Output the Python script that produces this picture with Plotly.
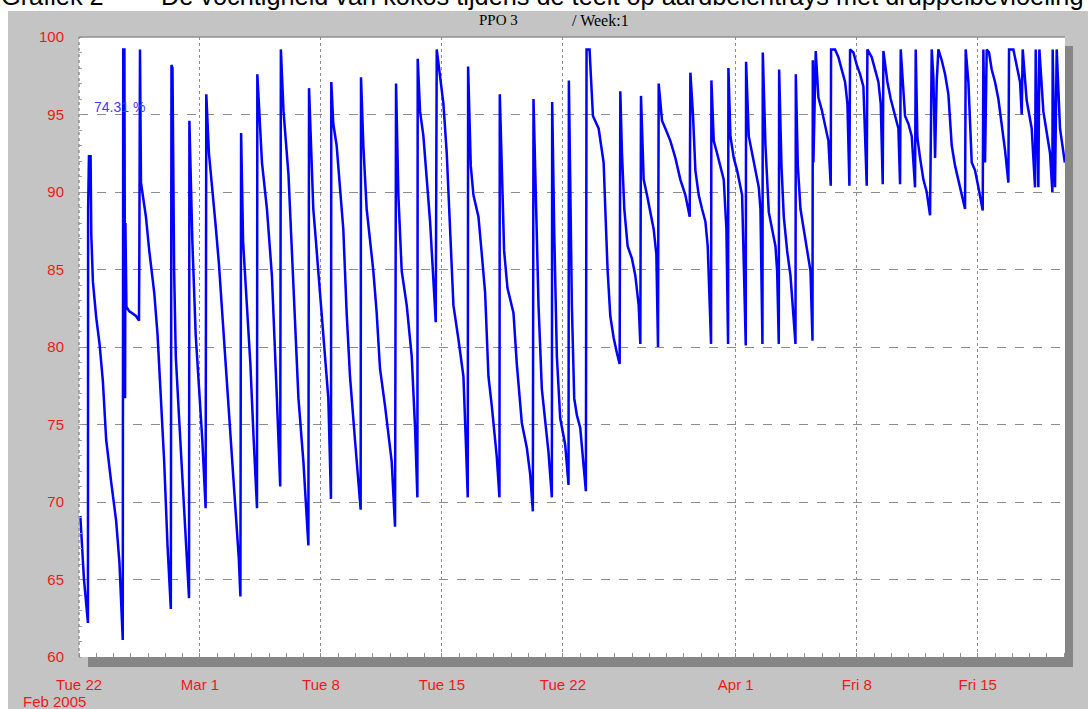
import pandas as pd
import plotly.graph_objects as go

# ---- data (days after 2005-02-22 00:00, moisture %) ----
base_date = "2005-02-22"
day_offset = [
    0.077, 0.288, 0.518, 0.527, 0.575, 0.671, 0.710, 0.806, 0.997, 1.189, 1.381, 1.573, 1.860, 2.148, 2.340, 2.493, 2.532,
    2.560, 2.628, 2.666, 2.685, 2.743, 2.915, 3.299, 3.471, 3.491, 3.529, 3.586, 3.874, 4.066, 4.354, 4.545, 4.737, 4.929,
    5.121, 5.313, 5.351, 5.409, 5.504, 5.600, 5.792, 5.984, 6.176, 6.367, 6.387, 6.559, 6.751, 6.943, 7.135, 7.326, 7.365,
    7.518, 7.710, 7.902, 8.094, 8.381, 8.669, 8.957, 9.244, 9.340, 9.379, 9.494, 9.724, 9.916, 10.107, 10.299, 10.318,
    10.453, 10.587, 10.875, 11.162, 11.450, 11.642, 11.680, 11.834, 12.121, 12.409, 12.697, 12.984, 13.272, 13.310,
    13.556, 13.653, 13.846, 14.039, 14.232, 14.425, 14.579, 14.598, 14.714, 14.907, 15.100, 15.293, 15.486, 15.680,
    15.969, 16.162, 16.297, 16.317, 16.452, 16.645, 16.838, 17.031, 17.224, 17.417, 17.707, 17.900, 18.093, 18.286,
    18.344, 18.479, 18.672, 18.961, 19.251, 19.444, 19.579, 19.598, 19.734, 19.927, 20.120, 20.313, 20.506, 20.641,
    20.699, 20.892, 21.085, 21.278, 21.471, 21.664, 21.954, 22.243, 22.378, 22.494, 22.514, 22.668, 22.822, 23.112,
    23.305, 23.498, 23.691, 23.884, 24.174, 24.328, 24.347, 24.463, 24.598, 24.791, 25.139, 25.332, 25.525, 25.622,
    25.911, 26.104, 26.259, 26.297, 26.452, 26.587, 26.780, 26.973, 27.166, 27.359, 27.378, 27.494, 27.649, 27.842,
    28.131, 28.324, 28.344, 28.421, 28.517, 28.653, 28.807, 29.000, 29.193, 29.328, 29.367, 29.541, 29.622, 29.737,
    30.066, 30.355, 30.452, 30.587, 30.741, 30.934, 31.127, 31.282, 31.320, 31.417, 31.552, 31.745, 31.996, 32.189,
    32.382, 32.479, 32.517, 32.672, 32.865, 33.058, 33.251, 33.405, 33.502, 33.541, 33.734, 33.927, 34.216, 34.506,
    34.795, 35.085, 35.336, 35.375, 35.529, 35.664, 35.857, 36.050, 36.243, 36.378, 36.494, 36.571, 36.591, 36.726,
    36.919, 37.112, 37.305, 37.459, 37.556, 37.575, 37.691, 37.884, 38.077, 38.367, 38.463, 38.579, 38.598, 38.753,
    38.946, 39.139, 39.332, 39.429, 39.544, 39.564, 39.718, 39.911, 40.104, 40.297, 40.394, 40.490, 40.510, 40.645,
    40.780, 40.973, 41.166, 41.456, 41.475, 41.591, 41.745, 41.938, 42.131, 42.324, 42.440, 42.459, 42.493, 42.628,
    42.686, 42.783, 42.975, 43.168, 43.361, 43.496, 43.515, 43.747, 43.939, 44.132, 44.325, 44.460, 44.576, 44.614,
    44.807, 45.000, 45.193, 45.386, 45.482, 45.578, 45.617, 45.868, 46.061, 46.253, 46.388, 46.504, 46.543, 46.774,
    46.967, 47.218, 47.410, 47.507, 47.545, 47.796, 47.989, 48.182, 48.374, 48.413, 48.509, 48.664, 48.857, 49.049,
    49.242, 49.339, 49.435, 49.532, 49.628, 49.724, 49.917, 50.110, 50.303, 50.496, 50.688, 50.978, 51.267, 51.305,
    51.460, 51.653, 51.845, 52.038, 52.289, 52.327, 52.424, 52.520, 52.655, 52.809, 53.002, 53.195, 53.388, 53.581,
    53.774, 53.812, 54.063, 54.256, 54.449, 54.545, 54.603, 54.834, 55.124, 55.316, 55.355, 55.509, 55.567, 55.798,
    55.991, 56.184, 56.319, 56.338, 56.473, 56.570, 56.762, 57.040,
]
moisture = [
    69.1, 65.0, 62.2, 88.8, 92.3, 92.3, 87.3, 84.2, 81.9, 80.2, 77.8, 74.0, 71.3, 68.8, 66.1, 62.0, 61.1,
    99.2, 99.2, 76.7, 88.0, 82.6, 82.3, 82.0, 81.7, 86.0, 99.2, 90.6, 88.4, 86.2, 83.5, 80.8, 76.7, 72.6,
    67.2, 63.1, 98.2, 98.0, 84.9, 79.4, 75.4, 71.3, 67.2, 63.8, 94.6, 86.8, 80.8, 77.3, 74.0, 69.6, 96.3,
    92.5, 90.3, 87.9, 85.4, 80.8, 76.2, 71.3, 66.4, 63.9, 93.8, 86.8, 82.1, 78.9, 74.0, 69.6, 97.6,
    94.9, 91.9, 88.9, 84.6, 76.7, 71.0, 99.2, 95.2, 91.1, 84.3, 76.7, 72.6, 67.2, 96.7,
    88.9, 87.6, 84.9, 82.7, 79.4, 76.7, 70.2, 97.1, 94.4, 93.0, 90.3, 87.6, 82.2, 78.1,
    74.0, 71.3, 69.5, 97.4, 93.0, 88.9, 87.0, 84.9, 82.2, 78.6, 76.2, 74.5, 72.6, 68.4,
    97.0, 89.8, 84.9, 82.7, 79.4, 74.8, 70.3, 98.6, 95.2, 93.6, 91.1, 88.1, 84.3, 81.6,
    99.2, 97.6, 95.7, 92.5, 87.6, 82.7, 80.5, 78.1, 74.0, 70.3, 98.1, 91.7, 89.8, 88.4,
    86.0, 83.5, 78.1, 76.2, 72.9, 70.3, 96.3, 90.8, 86.2, 83.8, 82.2, 78.9, 76.7, 75.1,
    73.5, 71.8, 69.4, 96.0, 88.9, 82.7, 77.3, 75.4, 73.2, 70.3, 95.8, 87.6, 79.4, 75.4,
    73.7, 71.1, 97.2, 90.8, 82.7, 76.7, 75.6, 74.8, 72.6, 70.7, 99.2, 99.2, 97.4, 94.9,
    94.1, 91.9, 88.9, 84.9, 82.0, 80.6, 79.6, 78.9, 96.5, 92.5, 88.9, 86.5, 85.7, 84.6,
    82.7, 80.2, 96.2, 90.8, 89.8, 88.7, 87.6, 86.0, 80.0, 97.0, 94.6, 94.1, 93.3, 92.2,
    90.8, 89.8, 88.4, 97.7, 94.9, 91.4, 89.8, 88.9, 88.1, 86.5, 82.7, 80.2, 97.2, 93.3,
    92.5, 91.7, 90.8, 87.6, 80.2, 98.0, 93.6, 92.2, 91.4, 89.8, 84.9, 80.1, 98.4, 93.6,
    92.5, 91.4, 90.3, 88.9, 80.2, 99.0, 93.0, 88.7, 87.6, 86.5, 84.9, 80.2, 97.9, 91.7,
    88.4, 86.2, 84.6, 80.2, 97.6, 91.7, 88.9, 87.6, 86.2, 84.9, 80.4, 98.5, 91.9, 99.1,
    97.6, 96.1, 95.3, 94.4, 93.3, 90.4, 99.2, 99.2, 98.7, 97.9, 97.1, 95.7, 90.4, 99.2,
    99.0, 98.2, 97.6, 96.8, 93.0, 90.4, 99.2, 98.7, 97.9, 97.1, 95.7, 90.5, 99.1, 97.1,
    96.0, 94.9, 94.1, 90.5, 99.2, 94.9, 94.4, 93.6, 90.3, 99.2, 93.5, 92.2, 90.8, 90.0,
    88.5, 99.2, 97.4, 92.2, 97.1, 99.2, 98.5, 97.6, 96.3, 93.0, 91.7, 90.3, 88.9, 99.2,
    97.1, 91.9, 91.4, 90.3, 88.8, 99.2, 91.9, 99.2, 99.0, 97.9, 97.1, 96.0, 94.4, 92.7,
    90.6, 99.2, 99.2, 98.2, 97.1, 95.0, 99.2, 95.9, 94.1, 90.3, 99.2, 90.3, 99.2, 95.2,
    93.9, 92.5, 90.0, 99.2, 90.3, 99.2, 94.1, 91.9,
]
tick_days = [0, 7, 14, 21, 28, 38, 45, 52]
tick_text = ["Tue 22", "Mar 1", "Tue 8", "Tue 15", "Tue 22", "Apr 1", "Fri 8", "Fri 15"]
y_ticks = [60, 65, 70, 75, 80, 85, 90, 95, 100]
range_days = 57.05

title_label = "Grafiek 2"
title_text = "De vochtigheid van kokos tijdens de teelt op aardbeientrays met druppelbevloeiing"
cursor_text = "74.31 %"

# ---- figure ----
t0 = pd.Timestamp(base_date)
times = t0 + pd.to_timedelta(day_offset, unit="D")
tickvals = [t0 + pd.Timedelta(days=d) for d in tick_days]
x_end = t0 + pd.Timedelta(days=range_days)

W, H = 1088, 709
L, R, T, B = 79, 23, 37, 52
pw, ph = W - L - R, H - T - B


def px(x):
    return (x - L) / pw


def py(y):
    return (H - B - y) / ph


fig = go.Figure()
fig.add_trace(go.Scatter(x=times, y=moisture, mode="lines",
                         line=dict(color="#0000FF", width=2.5), hoverinfo="skip", showlegend=False))

gray = "#C4C4C4"
shapes = [
    dict(type="rect", xref="paper", yref="paper", x0=px(8), x1=px(W + 5), y0=py(H + 5), y1=py(11),
         fillcolor=gray, line=dict(width=0), layer="below"),
    dict(type="rect", xref="paper", yref="paper", x0=px(88), x1=px(1073), y0=py(667), y1=py(46),
         fillcolor="#858585", line=dict(width=0), layer="below"),
    dict(type="rect", xref="paper", yref="paper", x0=0, x1=1, y0=0, y1=1,
         fillcolor="#FFFFFF", line=dict(width=0), layer="below"),
    dict(type="line", xref="paper", yref="paper", x0=0, x1=1, y0=1, y1=1,
         line=dict(color="#909090", width=1.5)),
    dict(type="line", xref="paper", yref="paper", x0=0, x1=0, y0=0, y1=1,
         line=dict(color="#909090", width=1.5, dash="dot")),
]

red = "#F01818"
font_main = "Liberation Sans, Arial, sans-serif"
title_font = dict(family=font_main, size=25.3, color="#000000")
annotations = [
    dict(text=title_label, xref="paper", yref="paper", x=px(-1), y=py(12), xanchor="left", yanchor="bottom",
         showarrow=False, font=title_font),
    dict(text=title_text, xref="paper", yref="paper", x=px(159), y=py(12), xanchor="left", yanchor="bottom",
         showarrow=False, font=title_font),
    dict(text="PPO 3", xref="paper", yref="paper", x=px(498), y=py(20), xanchor="center", yanchor="middle",
         showarrow=False, font=dict(family="Liberation Serif, Times New Roman, serif", size=15, color="#000000")),
    dict(text="/ Week:1", xref="paper", yref="paper", x=px(600), y=py(20), xanchor="center", yanchor="middle",
         showarrow=False, font=dict(family="Liberation Serif, Times New Roman, serif", size=16, color="#000000")),
    dict(text=cursor_text, xref="paper", yref="paper", x=px(92), y=py(107), xanchor="left", yanchor="middle",
         showarrow=False, font=dict(family=font_main, size=14, color="#3C3CFF")),
    dict(text="Feb 2005", xref="paper", yref="paper", x=px(21), y=py(701), xanchor="left", yanchor="middle",
         showarrow=False, font=dict(family=font_main, size=15, color=red)),
]

fig.update_layout(
    width=W, height=H, autosize=False,
    margin=dict(l=L, r=R, t=T, b=B, pad=0),
    paper_bgcolor="#FFFFFF", plot_bgcolor="#FFFFFF",
    shapes=shapes, annotations=annotations, showlegend=False,
    xaxis=dict(
        type="date", range=[t0, x_end], tickmode="array", tickvals=tickvals, ticktext=tick_text,
        tickfont=dict(family=font_main, size=15, color=red), ticks="", ticklabelstandoff=17,
        showgrid=True, gridcolor="#8C8C8C", griddash="dot", gridwidth=1,
        zeroline=False, showline=False, fixedrange=True,
        minor=dict(ticks="inside", dtick=86400000, tick0=t0, ticklen=4, tickcolor="#909090", tickwidth=1,
                   showgrid=False),
    ),
    yaxis=dict(
        range=[60, 100], tickmode="array", tickvals=y_ticks,
        tickfont=dict(family=font_main, size=15, color=red), ticks="", ticklabelstandoff=14,
        showgrid=True, gridcolor="#8C8C8C", griddash="dash", gridwidth=1,
        zeroline=False, showline=False, fixedrange=True,
        minor=dict(ticks="inside", dtick=1, ticklen=3, tickcolor="#A0A0A0", tickwidth=1, showgrid=False),
    ),
)

fig.write_html("out.html", config={"displayModeBar": False},
               post_script="document.body.style.margin='0';document.body.style.overflow='hidden';")
